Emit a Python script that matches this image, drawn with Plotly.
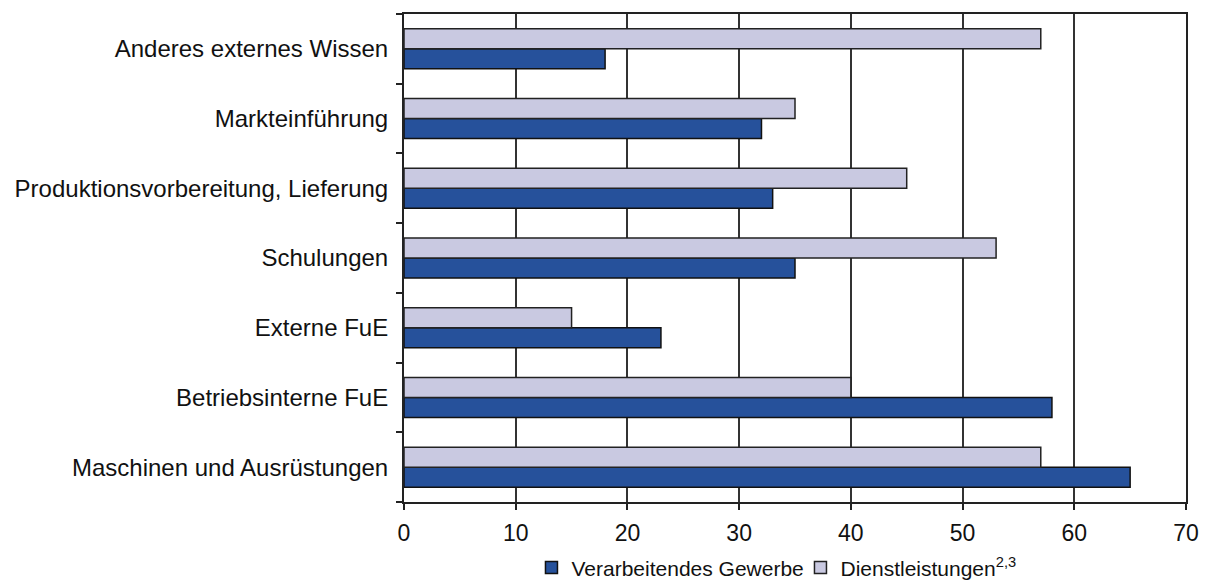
import plotly.graph_objects as go

# Innovation expenditure categories, listed bottom to top
categories = [
    "Maschinen und Ausrüstungen",
    "Betriebsinterne FuE",
    "Externe FuE",
    "Schulungen",
    "Produktionsvorbereitung, Lieferung",
    "Markteinführung",
    "Anderes externes Wissen",
]
verarbeitendes_gewerbe = [65, 58, 23, 35, 33, 32, 18]
dienstleistungen = [57, 40, 15, 53, 45, 35, 57]

x_ticks = [0, 10, 20, 30, 40, 50, 60, 70]

FONT = "Liberation Sans, Arial, sans-serif"
DARK = "#26519b"
LIGHT = "#c9c9e1"

fig = go.Figure()
fig.add_trace(go.Bar(
    y=categories, x=verarbeitendes_gewerbe, orientation="h",
    name="Verarbeitendes Gewerbe",
    marker=dict(color=DARK, line=dict(color="#111111", width=1.5)),
))
fig.add_trace(go.Bar(
    y=categories, x=dienstleistungen, orientation="h",
    name="Dienstleistungen<sup>2,3</sup>",
    marker=dict(color=LIGHT, line=dict(color="#222222", width=1.5)),
))

fig.update_layout(
    width=1211, height=582,
    margin=dict(l=404, r=25, t=14, b=80, autoexpand=False),
    paper_bgcolor="white", plot_bgcolor="white",
    barmode="group", bargap=0.426, bargroupgap=0,
    font=dict(family=FONT, size=24, color="#111111"),
    showlegend=True,
    legend=dict(
        orientation="h", x=0.163, xanchor="left", y=-0.135, yanchor="middle",
        font=dict(family=FONT, size=21, color="#111111"),
        entrywidth=224, entrywidthmode="pixels",
        itemwidth=30, tracegroupgap=0,
    ),
    xaxis=dict(
        range=[0, 70], tickvals=x_ticks, ticktext=[str(v) for v in x_ticks],
        showgrid=True, gridcolor="#333333", gridwidth=1.5,
        showline=True, linecolor="#222222", linewidth=2, mirror=True,
        ticks="outside", ticklen=6, tickcolor="#222222", tickwidth=1.5,
        tickfont=dict(size=23), ticklabelstandoff=3,
        zeroline=False, fixedrange=True,
    ),
    yaxis=dict(
        categoryorder="array", categoryarray=categories,
        showline=True, linecolor="#222222", linewidth=2, mirror=True,
        ticks="outside", tickson="boundaries", ticklen=6,
        tickcolor="#222222", tickwidth=1.5,
        tickfont=dict(size=24),
        showgrid=False, zeroline=False, fixedrange=True,
        ticklabelstandoff=9,
    ),
)

fig.write_html("out.html")
